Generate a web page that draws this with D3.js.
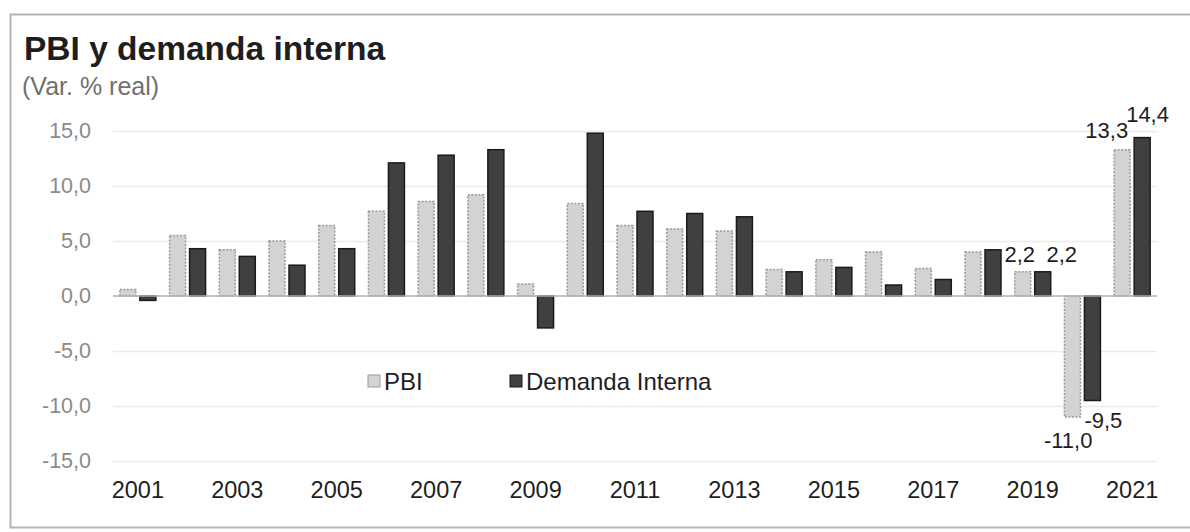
<!DOCTYPE html>
<html>
<head>
<meta charset="utf-8">
<script src="https://cdn.jsdelivr.net/npm/d3@7"></script>
<style>
  html, body { margin: 0; padding: 0; background: #fff; }
  svg { display: block; font-family: "Liberation Sans", Arial, sans-serif; }
</style>
</head>
<body>
<svg id="chart" width="1190" height="532"></svg>
<script>
// ---- Data ----
const years = ["2001","2002","2003","2004","2005","2006","2007","2008","2009","2010","2011","2012","2013","2014","2015","2016","2017","2018","2019","2020","2021"];
const pbi = [0.6, 5.5, 4.2, 5.0, 6.4, 7.7, 8.6, 9.2, 1.1, 8.4, 6.4, 6.1, 5.9, 2.4, 3.3, 4.0, 2.5, 4.0, 2.2, -11.0, 13.3];
const demandaInterna = [-0.4, 4.3, 3.6, 2.8, 4.3, 12.1, 12.8, 13.3, -2.9, 14.8, 7.7, 7.5, 7.2, 2.2, 2.6, 1.0, 1.5, 4.2, 2.2, -9.5, 14.4];
const seriesNames = ["PBI", "Demanda Interna"];
const yTicks = [15, 10, 5, 0, -5, -10, -15];
const xTickLabels = ["2001","2003","2005","2007","2009","2011","2013","2015","2017","2019","2021"];
const labeledYears = ["2019", "2020", "2021"];

// ---- Layout / style ----
const fmt = v => d3.format(".1f")(v).replace(".", ",").replace("−", "-");
const colors = { "PBI": "#d3d3d3", "Demanda Interna": "#404040" };
const strokes = { "PBI": "#9a9a9a", "Demanda Interna": "#1a1a1a" };

const svg = d3.select("#chart");

// frame
svg.append("rect").attr("x", 10.5).attr("y", 14.5).attr("width", 1200).attr("height", 513)
  .attr("fill", "none").attr("stroke", "#b5b5b5").attr("stroke-width", 2);

// title
svg.append("text").attr("x", 24).attr("y", 60).text("PBI y demanda interna")
  .attr("font-size", 33.5).attr("font-weight", "bold").attr("fill", "#1e1e1e");
svg.append("text").attr("x", 22).attr("y", 95).text("(Var. % real)")
  .attr("font-size", 25).attr("fill", "#707070");

const x = d3.scaleBand().domain(years).range([113, 1157]).paddingInner(0.276).paddingOuter(0.138);
const xs = d3.scaleBand().domain(seriesNames).range([0, x.bandwidth()]).paddingInner(0.2);
const y = d3.scaleLinear().domain([-15, 15]).range([461, 131]);

// gridlines
svg.append("g").selectAll("line").data(yTicks.filter(t => t !== 0)).join("line")
  .attr("x1", 113).attr("x2", 1157)
  .attr("y1", d => y(d) + 0.5).attr("y2", d => y(d) + 0.5)
  .attr("stroke", "#ebebeb").attr("stroke-width", 1.5);

// y axis labels
const yAxis = d3.axisLeft(y).tickValues(yTicks).tickFormat(fmt).tickSize(0).tickPadding(0);
const gy = svg.append("g").attr("transform", "translate(91,0)").call(yAxis);
gy.select(".domain").remove();
gy.selectAll("text").attr("font-size", 21.5).attr("fill", "#8a8a8a")
  .attr("font-family", "'Liberation Sans', Arial, sans-serif");

// bars
const rows = years.map((yr, i) => ({ year: yr, values: [
  { key: "PBI", value: pbi[i] }, { key: "Demanda Interna", value: demandaInterna[i] } ] }));

const groups = svg.append("g").selectAll("g").data(rows).join("g")
  .attr("transform", d => `translate(${x(d.year)},0)`);

groups.selectAll("rect").data(d => d.values).join("rect")
  .attr("x", d => xs(d.key))
  .attr("width", xs.bandwidth())
  .attr("y", d => y(Math.max(0, d.value)))
  .attr("height", d => Math.abs(y(d.value) - y(0)))
  .attr("fill", d => colors[d.key])
  .attr("stroke", d => strokes[d.key])
  .attr("stroke-width", 1.5)
  .attr("stroke-dasharray", d => d.key === "PBI" ? "2,1.5" : null);

// zero line
svg.append("line").attr("x1", 113).attr("x2", 1157).attr("y1", y(0)).attr("y2", y(0))
  .attr("stroke", "#b0b0b0").attr("stroke-width", 1.5);

// x axis labels
const xAxis = d3.axisBottom(x).tickValues(xTickLabels).tickSize(0).tickPadding(0);
const gx = svg.append("g").attr("transform", "translate(0,481)").call(xAxis);
gx.select(".domain").remove();
gx.selectAll("text").attr("font-size", 23.5).attr("fill", "#1e1e1e").attr("dy", "0.71em")
  .attr("font-family", "'Liberation Sans', Arial, sans-serif");

// data labels
const labelStyle = {
  "2019|PBI": { anchor: "middle", dx: -3, dy: -10 },
  "2019|Demanda Interna": { anchor: "middle", dx: 19, dy: -10 },
  "2020|PBI": { anchor: "end", dx: 20, dy: 31 },
  "2020|Demanda Interna": { anchor: "start", dx: -8, dy: 27 },
  "2021|PBI": { anchor: "end", dx: 6, dy: -12 },
  "2021|Demanda Interna": { anchor: "start", dx: -16, dy: -16 }
};
const labelData = [];
rows.filter(r => labeledYears.includes(r.year)).forEach(r => r.values.forEach(v => labelData.push({ year: r.year, key: v.key, value: v.value })));
svg.append("g").selectAll("text").data(labelData).join("text")
  .each(function(d) {
    const s = labelStyle[d.year + "|" + d.key];
    const cx = x(d.year) + xs(d.key) + xs.bandwidth() / 2;
    d3.select(this).attr("x", cx + s.dx).attr("y", y(d.value) + s.dy).attr("text-anchor", s.anchor);
  })
  .attr("font-size", 22).attr("fill", "#1e1e1e")
  .text(d => fmt(d.value));

// legend
const legend = svg.append("g");
const legendPos = [{ key: "PBI", x: 368 }, { key: "Demanda Interna", x: 510 }];
legendPos.forEach(l => {
  legend.append("rect").attr("x", l.x).attr("y", 375).attr("width", 12).attr("height", 12)
    .attr("fill", colors[l.key]).attr("stroke", strokes[l.key]).attr("stroke-width", 1);
  legend.append("text").attr("x", l.x + 16).attr("y", 390).text(l.key)
    .attr("font-size", 24).attr("fill", "#1e1e1e");
});
</script>
</body>
</html>
